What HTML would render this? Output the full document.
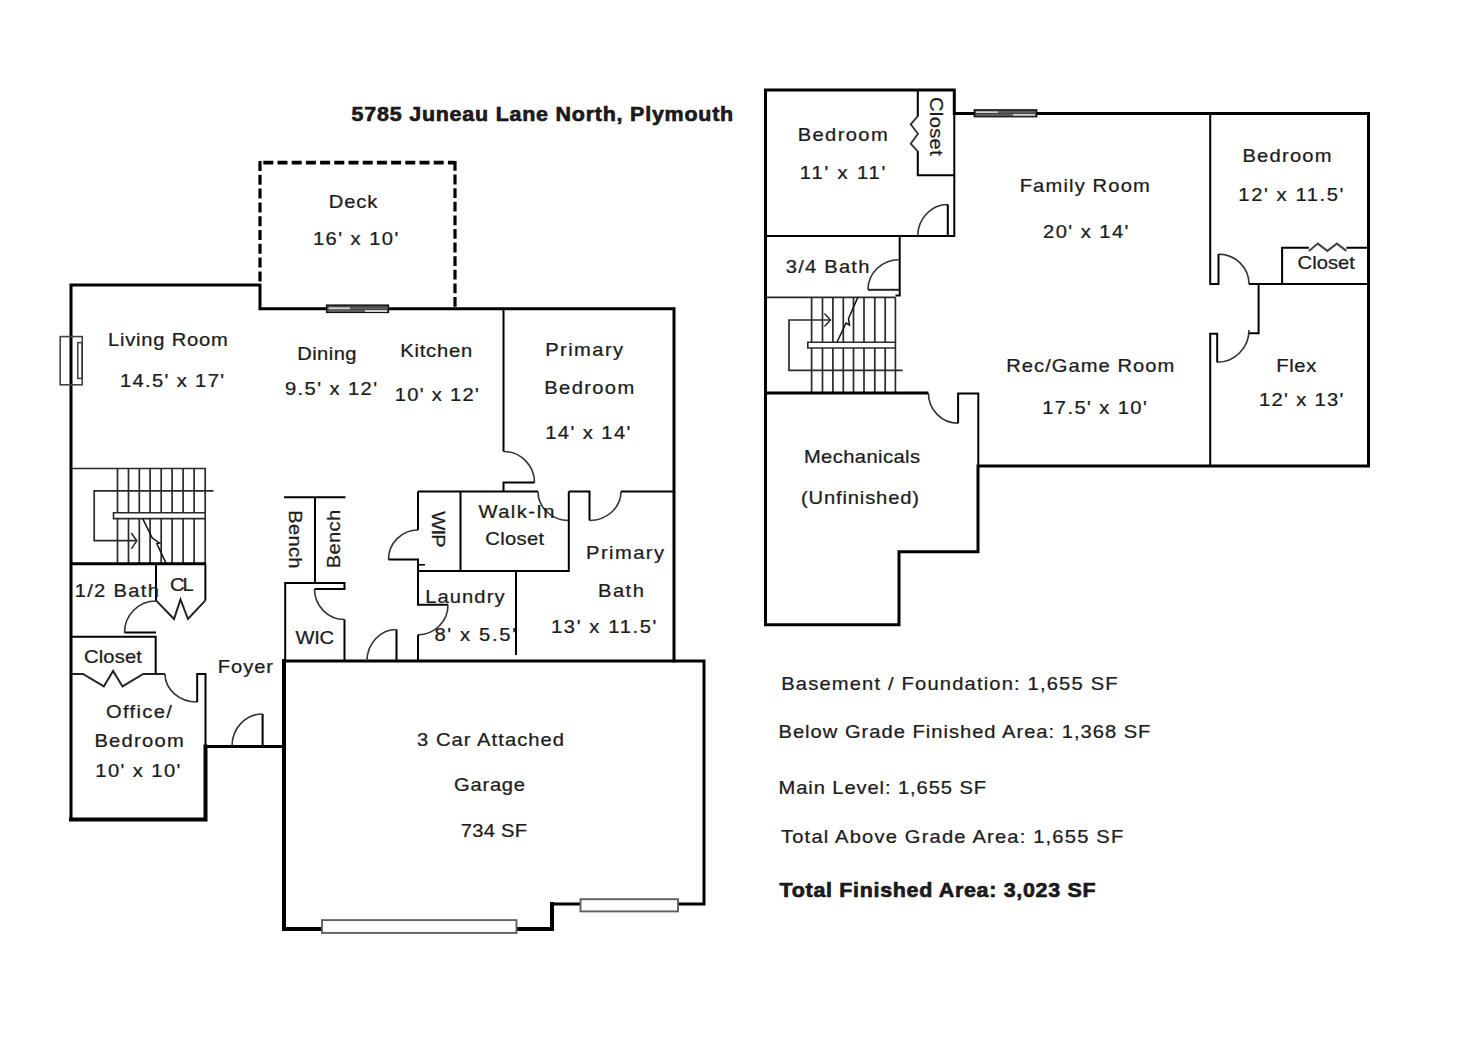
<!DOCTYPE html>
<html><head><meta charset="utf-8"><title>Floor Plan</title>
<style>
html,body{margin:0;padding:0;background:#fff;}
body{width:1462px;height:1060px;overflow:hidden;}
svg{display:block;font-family:"Liberation Sans", sans-serif;}
</style></head><body>
<svg width="1462" height="1060" viewBox="0 0 1462 1060">
<rect width="1462" height="1060" fill="#fff"/>
<g>
<path d="M260,161 V285" stroke="#000" stroke-width="3.2" fill="none" stroke-dasharray="10,3.8" stroke-linecap="butt"/>
<path d="M262,162.7 H455" stroke="#000" stroke-width="3.8" fill="none" stroke-dasharray="10,4.2" stroke-dashoffset="12.9" stroke-linecap="butt"/>
<path d="M455,161 V308" stroke="#000" stroke-width="3.2" fill="none" stroke-dasharray="9.8,3.8" stroke-linecap="butt"/>
<path d="M71,819.5 V285 H260 V308.8 H674 V661" stroke="#000" stroke-width="3" fill="none" stroke-linejoin="miter" stroke-linecap="square"/>
<path d="M205.5,746.5 H284" stroke="#000" stroke-width="3" fill="none" stroke-linecap="square"/>
<path d="M205.5,746.5 V819.5 H71" stroke="#000" stroke-width="4" fill="none" stroke-linecap="square"/>
<path d="M284,661 H704 V904 H552" stroke="#000" stroke-width="3" fill="none" stroke-linecap="square"/>
<path d="M552,904 V929 H284 V661" stroke="#000" stroke-width="4" fill="none" stroke-linecap="square"/>
<rect x="326.5" y="305" width="62" height="7.5" fill="#444" stroke="#111" stroke-width="1.2"/>
<path d="M350,308.3 H387 M328.5,311 H365" stroke="#666" stroke-width="1.5"/><path d="M328.5,308.3 H350 M365,311 H387" stroke="#d0d0d0" stroke-width="1.9"/>
<rect x="322" y="920.1" width="194.5" height="12.8" fill="#fff" stroke="#606060" stroke-width="1.9"/>
<rect x="580.5" y="899.2" width="97.5" height="12.2" fill="#fff" stroke="#606060" stroke-width="1.9"/>
<rect x="60.2" y="336.6" width="22" height="48.2" fill="none" stroke="#444" stroke-width="1.6"/>
<rect x="77.8" y="342.6" width="4.4" height="35.8" fill="none" stroke="#333" stroke-width="1.4"/>
<path d="M503.5,308.5 V451.5" stroke="#000" stroke-width="2" fill="none" />
<path d="M503.5,451.5 A31,31 0 0 1 534.5,482.5" stroke="#333" stroke-width="1.6" fill="none" />
<path d="M534.5,482.5 H503.5 V491.5" stroke="#000" stroke-width="2" fill="none" />
<path d="M418,491.5 H538" stroke="#000" stroke-width="2" fill="none" />
<path d="M538,491.5 A30.8,29 0 0 0 568.8,520.5" stroke="#333" stroke-width="1.6" fill="none" />
<path d="M568.8,491.5 V571 H418" stroke="#000" stroke-width="2" fill="none" />
<path d="M568.8,491.5 H589.5 V520.5" stroke="#000" stroke-width="2" fill="none" />
<path d="M589.5,520.5 A31.5,29 0 0 0 621,491.5" stroke="#333" stroke-width="1.6" fill="none" />
<path d="M621,491.5 H674" stroke="#000" stroke-width="2" fill="none" />
<path d="M460.5,491.5 V571" stroke="#000" stroke-width="2" fill="none" />
<path d="M418,491.5 V530" stroke="#000" stroke-width="2" fill="none" />
<path d="M418,530 A29.5,29.5 0 0 0 388.5,559.5" stroke="#333" stroke-width="1.6" fill="none" />
<path d="M388.5,559.5 H418 V604.8 H448" stroke="#000" stroke-width="2" fill="none" />
<path d="M448,604.8 A30,30 0 0 1 418,634.8" stroke="#333" stroke-width="1.6" fill="none" />
<path d="M418,634.8 V661" stroke="#000" stroke-width="2" fill="none" />
<path d="M418,564.8 H425" stroke="#000" stroke-width="1.6" fill="none" />
<path d="M516,571 V655" stroke="#000" stroke-width="2" fill="none" />
<path d="M284,497.2 H345.5" stroke="#000" stroke-width="2" fill="none" />
<path d="M315,497.2 V583" stroke="#000" stroke-width="2" fill="none" />
<path d="M285.2,583 H344.5 V589 H314.5" stroke="#000" stroke-width="2" fill="none" />
<path d="M314.5,589 A30,30.5 0 0 0 344.5,619.5" stroke="#333" stroke-width="1.6" fill="none" />
<path d="M344.5,619.5 V661" stroke="#000" stroke-width="2" fill="none" />
<path d="M285.2,582 V661" stroke="#000" stroke-width="2" fill="none" />
<path d="M396.5,661 V629.5" stroke="#000" stroke-width="2" fill="none" />
<path d="M396.5,629.5 A29.5,31.5 0 0 0 367,661" stroke="#333" stroke-width="1.6" fill="none" />
<path d="M71,468.5 H206" stroke="#2a2a2a" stroke-width="1.7" fill="none" />
<path d="M117.5,468.5 V512.7 M117.5,518.6 V563.6" stroke="#2a2a2a" stroke-width="1.7" fill="none" />
<path d="M128.5,468.5 V512.7 M128.5,518.6 V563.6" stroke="#2a2a2a" stroke-width="1.7" fill="none" />
<path d="M139.3,468.5 V512.7 M139.3,518.6 V563.6" stroke="#2a2a2a" stroke-width="1.7" fill="none" />
<path d="M150.1,468.5 V512.7 M150.1,518.6 V563.6" stroke="#2a2a2a" stroke-width="1.7" fill="none" />
<path d="M161.2,468.5 V512.7 M161.2,518.6 V563.6" stroke="#2a2a2a" stroke-width="1.7" fill="none" />
<path d="M172.1,468.5 V512.7 M172.1,518.6 V563.6" stroke="#2a2a2a" stroke-width="1.7" fill="none" />
<path d="M183.1,468.5 V512.7 M183.1,518.6 V563.6" stroke="#2a2a2a" stroke-width="1.7" fill="none" />
<path d="M194.1,468.5 V512.7 M194.1,518.6 V563.6" stroke="#2a2a2a" stroke-width="1.7" fill="none" />
<path d="M205.2,468.5 V512.7 M205.2,518.6 V563.6" stroke="#2a2a2a" stroke-width="1.7" fill="none" />
<path d="M113.5,512.7 H205.2 V518.6 H113.5 Z" stroke="#2a2a2a" stroke-width="1.6" fill="none" />
<path d="M213.5,490.9 H94.2 V540.7 H136.8" stroke="#2a2a2a" stroke-width="1.7" fill="none" />
<path d="M131.3,533 L136.8,540.7 L131.3,548.8" stroke="#2a2a2a" stroke-width="1.5" fill="none" />
<path d="M142.7,518.6 L152.3,538 L159.5,543 L156.8,543.5 L166.2,563.6" stroke="#111" stroke-width="1.5" fill="none" />
<path d="M71,563.8 H206" stroke="#000" stroke-width="3" fill="none" />
<path d="M156,563.6 V601" stroke="#000" stroke-width="2" fill="none" />
<path d="M156,601 A31.5,31.5 0 0 0 124.5,632.5" stroke="#333" stroke-width="1.6" fill="none" />
<path d="M124.5,632.5 H156" stroke="#000" stroke-width="2" fill="none" />
<path d="M205.4,563.6 V600.4" stroke="#000" stroke-width="2" fill="none" />
<path d="M156,600.4 L174,619 L180.5,599.5 L188,619 L205.4,600.4" stroke="#222" stroke-width="2" fill="none" />
<path d="M71,636.8 H155.7 V674" stroke="#000" stroke-width="2" fill="none" />
<path d="M71,674 H83 L103.8,686.4 L113.1,670.9 L122.5,686.4 L143.2,674 H165" stroke="#222" stroke-width="2" fill="none" />
<path d="M165,674 A32.2,28 0 0 0 197.2,702" stroke="#333" stroke-width="1.6" fill="none" />
<path d="M197.2,702 V674 H205.5 V746.5" stroke="#000" stroke-width="2" fill="none" />
<path d="M262.6,746 V714" stroke="#000" stroke-width="2" fill="none" />
<path d="M262.6,714 A30.6,32 0 0 0 232,746" stroke="#333" stroke-width="1.6" fill="none" />
<path d="M765.5,90 H954.3 V113.5 H1368.5 V466 H978 V551.7 H899 V624.8 H765.5 Z" stroke="#000" stroke-width="3" fill="none" stroke-linejoin="miter"/>
<path d="M954.3,113.5 V236 H765.5" stroke="#000" stroke-width="2" fill="none" />
<path d="M917.8,90 V116.5 M917.8,151 V175.2 H954.3" stroke="#000" stroke-width="2" fill="none" />
<path d="M918,115.9 L910.7,124.3 L918,133.7 L910.7,143.7 L918,151.6" stroke="#333" stroke-width="1.8" fill="none" />
<path d="M917.8,236 A30,31.5 0 0 1 947.8,204.5" stroke="#333" stroke-width="1.6" fill="none" />
<path d="M947.8,204.5 V236" stroke="#000" stroke-width="2" fill="none" />
<path d="M899.7,236 V295.4 H895.5" stroke="#000" stroke-width="2" fill="none" />
<path d="M868,289.8 A30.8,30.1 0 0 1 898.8,259.7" stroke="#333" stroke-width="1.6" fill="none" />
<path d="M868,289.8 H899.7" stroke="#222" stroke-width="2" fill="none" />
<rect x="974.2" y="109.8" width="62.6" height="7" fill="#444" stroke="#111" stroke-width="1.2"/>
<path d="M998,112.1 H1035 M976,114.9 H1013" stroke="#666" stroke-width="1.5"/><path d="M976,112.1 H998 M1013,114.9 H1035" stroke="#d0d0d0" stroke-width="1.9"/>
<path d="M765.5,297.4 H895.6" stroke="#2a2a2a" stroke-width="1.7" fill="none" />
<path d="M811.6,297.4 V342.2 M811.6,348 V392.3" stroke="#2a2a2a" stroke-width="1.7" fill="none" />
<path d="M822.5,297.4 V342.2 M822.5,348 V392.3" stroke="#2a2a2a" stroke-width="1.7" fill="none" />
<path d="M832.9,297.4 V342.2 M832.9,348 V392.3" stroke="#2a2a2a" stroke-width="1.7" fill="none" />
<path d="M843.3,297.4 V342.2 M843.3,348 V392.3" stroke="#2a2a2a" stroke-width="1.7" fill="none" />
<path d="M853.5,297.4 V342.2 M853.5,348 V392.3" stroke="#2a2a2a" stroke-width="1.7" fill="none" />
<path d="M864,297.4 V342.2 M864,348 V392.3" stroke="#2a2a2a" stroke-width="1.7" fill="none" />
<path d="M874.8,297.4 V342.2 M874.8,348 V392.3" stroke="#2a2a2a" stroke-width="1.7" fill="none" />
<path d="M885.2,297.4 V342.2 M885.2,348 V392.3" stroke="#2a2a2a" stroke-width="1.7" fill="none" />
<path d="M895.4,297.4 V342.2 M895.4,348 V392.3" stroke="#2a2a2a" stroke-width="1.7" fill="none" />
<path d="M807.8,342.2 H895.4 V348 H807.8 Z" stroke="#2a2a2a" stroke-width="1.6" fill="none" />
<path d="M902.6,370.4 H789 V320 H830.5" stroke="#2a2a2a" stroke-width="1.7" fill="none" />
<path d="M824.5,313.5 L830.5,320 L824.5,326.5" stroke="#2a2a2a" stroke-width="1.5" fill="none" />
<path d="M837,342.2 L846,323 L849.5,325 L848.5,318.5 L857.8,297.4" stroke="#111" stroke-width="1.5" fill="none" />
<path d="M765.5,392.9 H928.4" stroke="#000" stroke-width="3" fill="none" />
<path d="M928.4,392.9 A29.7,30.3 0 0 0 958.1,423.2" stroke="#333" stroke-width="1.6" fill="none" />
<path d="M958.1,423.2 V393.5 H978.3 V466" stroke="#000" stroke-width="2" fill="none" />
<path d="M1210.2,113.5 V284 H1218.5 V254.1" stroke="#000" stroke-width="2" fill="none" />
<path d="M1218.5,254.1 A30.5,29.9 0 0 1 1249,284" stroke="#333" stroke-width="1.6" fill="none" />
<path d="M1249,284 H1368.5" stroke="#000" stroke-width="2" fill="none" />
<path d="M1282.1,284 V247.7 H1308.9 M1346.4,247.7 H1368.5" stroke="#000" stroke-width="2" fill="none" />
<path d="M1308.9,250.9 L1317.8,243.6 L1327.3,250.9 L1336.9,243.6 L1346.4,250.9" stroke="#444" stroke-width="2" fill="none" />
<path d="M1258.6,284 V333.2 H1249" stroke="#000" stroke-width="2" fill="none" />
<path d="M1249,329.9 A31.8,32.4 0 0 1 1217.2,362.3" stroke="#333" stroke-width="1.6" fill="none" />
<path d="M1217.2,362.3 V333.7 H1210.2 V466" stroke="#000" stroke-width="2" fill="none" />
</g>
<g>
<text transform="scale(1.1,1)" x="319.64" y="121.00" textLength="346.92" lengthAdjust="spacing" font-size="19.5" font-weight="bold" stroke="#111" stroke-width="0.6" fill="#1c1c1c">5785 Juneau Lane North, Plymouth</text>
<text transform="scale(1.12,1)" x="293.46" y="208.10" textLength="43.54" lengthAdjust="spacing" font-size="18.0" stroke="#1c1c1c" stroke-width="0.25" fill="#1c1c1c">Deck</text>
<text transform="scale(1.12,1)" x="279.36" y="244.60" textLength="76.34" lengthAdjust="spacing" font-size="18.0" stroke="#1c1c1c" stroke-width="0.25" fill="#1c1c1c">16' x 10'</text>
<text transform="scale(1.12,1)" x="96.41" y="346.30" textLength="107.03" lengthAdjust="spacing" font-size="18.0" stroke="#1c1c1c" stroke-width="0.25" fill="#1c1c1c">Living Room</text>
<text transform="scale(1.12,1)" x="107.04" y="386.60" textLength="93.03" lengthAdjust="spacing" font-size="18.0" stroke="#1c1c1c" stroke-width="0.25" fill="#1c1c1c">14.5' x 17'</text>
<text transform="scale(1.12,1)" x="265.34" y="360.10" textLength="53.03" lengthAdjust="spacing" font-size="18.0" stroke="#1c1c1c" stroke-width="0.25" fill="#1c1c1c">Dining</text>
<text transform="scale(1.12,1)" x="254.46" y="394.70" textLength="82.21" lengthAdjust="spacing" font-size="18.0" stroke="#1c1c1c" stroke-width="0.25" fill="#1c1c1c">9.5' x 12'</text>
<text transform="scale(1.12,1)" x="357.30" y="357.00" textLength="64.26" lengthAdjust="spacing" font-size="18.0" stroke="#1c1c1c" stroke-width="0.25" fill="#1c1c1c">Kitchen</text>
<text transform="scale(1.12,1)" x="352.39" y="400.60" textLength="75.28" lengthAdjust="spacing" font-size="18.0" stroke="#1c1c1c" stroke-width="0.25" fill="#1c1c1c">10' x 12'</text>
<text transform="scale(1.12,1)" x="486.77" y="356.30" textLength="69.67" lengthAdjust="spacing" font-size="18.0" stroke="#1c1c1c" stroke-width="0.25" fill="#1c1c1c">Primary</text>
<text transform="scale(1.12,1)" x="485.96" y="394.00" textLength="80.29" lengthAdjust="spacing" font-size="18.0" stroke="#1c1c1c" stroke-width="0.25" fill="#1c1c1c">Bedroom</text>
<text transform="scale(1.12,1)" x="486.77" y="438.80" textLength="76.07" lengthAdjust="spacing" font-size="18.0" stroke="#1c1c1c" stroke-width="0.25" fill="#1c1c1c">14' x 14'</text>
<text transform="scale(1.12,1)" x="427.23" y="518.10" textLength="67.89" lengthAdjust="spacing" font-size="18.0" stroke="#1c1c1c" stroke-width="0.25" fill="#1c1c1c">Walk-In</text>
<text transform="scale(1.12,1)" x="433.30" y="545.30" textLength="52.62" lengthAdjust="spacing" font-size="18.0" stroke="#1c1c1c" stroke-width="0.25" fill="#1c1c1c">Closet</text>
<text transform="scale(1.12,1)" x="523.29" y="558.90" textLength="69.58" lengthAdjust="spacing" font-size="18.0" stroke="#1c1c1c" stroke-width="0.25" fill="#1c1c1c">Primary</text>
<text transform="scale(1.12,1)" x="534.00" y="597.10" textLength="40.89" lengthAdjust="spacing" font-size="18.0" stroke="#1c1c1c" stroke-width="0.25" fill="#1c1c1c">Bath</text>
<text transform="scale(1.12,1)" x="491.95" y="633.30" textLength="94.12" lengthAdjust="spacing" font-size="18.0" stroke="#1c1c1c" stroke-width="0.25" fill="#1c1c1c">13' x 11.5'</text>
<text transform="scale(1.12,1)" x="379.71" y="602.60" textLength="70.73" lengthAdjust="spacing" font-size="18.0" stroke="#1c1c1c" stroke-width="0.25" fill="#1c1c1c">Laundry</text>
<text transform="scale(1.12,1)" x="387.86" y="640.70" textLength="72.85" lengthAdjust="spacing" font-size="18.0" stroke="#1c1c1c" stroke-width="0.25" fill="#1c1c1c">8' x 5.5'</text>
<text transform="scale(1.12,1)" x="263.84" y="644.00" textLength="34.33" lengthAdjust="spacing" font-size="18.0" stroke="#1c1c1c" stroke-width="0.25" fill="#1c1c1c">WIC</text>
<text transform="scale(1.12,1)" x="66.68" y="596.60" textLength="75.21" lengthAdjust="spacing" font-size="18.0" stroke="#1c1c1c" stroke-width="0.25" fill="#1c1c1c">1/2 Bath</text>
<text transform="scale(1.12,1)" x="151.79" y="591.00" textLength="21.20" lengthAdjust="spacing" font-size="18.0" stroke="#1c1c1c" stroke-width="0.25" fill="#1c1c1c">CL</text>
<text transform="scale(1.12,1)" x="75.00" y="662.60" textLength="51.71" lengthAdjust="spacing" font-size="18.0" stroke="#1c1c1c" stroke-width="0.25" fill="#1c1c1c">Closet</text>
<text transform="scale(1.12,1)" x="194.54" y="673.00" textLength="49.18" lengthAdjust="spacing" font-size="18.0" stroke="#1c1c1c" stroke-width="0.25" fill="#1c1c1c">Foyer</text>
<text transform="scale(1.12,1)" x="94.64" y="717.60" textLength="58.77" lengthAdjust="spacing" font-size="18.0" stroke="#1c1c1c" stroke-width="0.25" fill="#1c1c1c">Office/</text>
<text transform="scale(1.12,1)" x="84.27" y="746.60" textLength="79.76" lengthAdjust="spacing" font-size="18.0" stroke="#1c1c1c" stroke-width="0.25" fill="#1c1c1c">Bedroom</text>
<text transform="scale(1.12,1)" x="85.16" y="776.70" textLength="75.89" lengthAdjust="spacing" font-size="18.0" stroke="#1c1c1c" stroke-width="0.25" fill="#1c1c1c">10' x 10'</text>
<text transform="scale(1.12,1)" x="372.32" y="745.60" textLength="131.32" lengthAdjust="spacing" font-size="18.0" stroke="#1c1c1c" stroke-width="0.25" fill="#1c1c1c">3 Car Attached</text>
<text transform="scale(1.12,1)" x="405.36" y="790.60" textLength="63.43" lengthAdjust="spacing" font-size="18.0" stroke="#1c1c1c" stroke-width="0.25" fill="#1c1c1c">Garage</text>
<text transform="scale(1.12,1)" x="411.43" y="836.60" textLength="59.17" lengthAdjust="spacing" font-size="18.0" stroke="#1c1c1c" stroke-width="0.25" fill="#1c1c1c">734 SF</text>
<text transform="scale(1.12,1)" x="712.21" y="141.30" textLength="80.38" lengthAdjust="spacing" font-size="18.0" stroke="#1c1c1c" stroke-width="0.25" fill="#1c1c1c">Bedroom</text>
<text transform="scale(1.12,1)" x="714.18" y="178.60" textLength="76.34" lengthAdjust="spacing" font-size="18.0" stroke="#1c1c1c" stroke-width="0.25" fill="#1c1c1c">11' x 11'</text>
<text transform="scale(1.12,1)" x="701.61" y="272.80" textLength="74.65" lengthAdjust="spacing" font-size="18.0" stroke="#1c1c1c" stroke-width="0.25" fill="#1c1c1c">3/4 Bath</text>
<text transform="scale(1.12,1)" x="910.43" y="192.00" textLength="116.18" lengthAdjust="spacing" font-size="18.0" stroke="#1c1c1c" stroke-width="0.25" fill="#1c1c1c">Family Room</text>
<text transform="scale(1.12,1)" x="931.25" y="238.00" textLength="76.32" lengthAdjust="spacing" font-size="18.0" stroke="#1c1c1c" stroke-width="0.25" fill="#1c1c1c">20' x 14'</text>
<text transform="scale(1.12,1)" x="1109.27" y="162.30" textLength="79.67" lengthAdjust="spacing" font-size="18.0" stroke="#1c1c1c" stroke-width="0.25" fill="#1c1c1c">Bedroom</text>
<text transform="scale(1.12,1)" x="1105.70" y="201.20" textLength="93.67" lengthAdjust="spacing" font-size="18.0" stroke="#1c1c1c" stroke-width="0.25" fill="#1c1c1c">12' x 11.5'</text>
<text transform="scale(1.12,1)" x="1158.57" y="269.40" textLength="51.17" lengthAdjust="spacing" font-size="18.0" stroke="#1c1c1c" stroke-width="0.25" fill="#1c1c1c">Closet</text>
<text transform="scale(1.12,1)" x="898.46" y="372.00" textLength="149.98" lengthAdjust="spacing" font-size="18.0" stroke="#1c1c1c" stroke-width="0.25" fill="#1c1c1c">Rec/Game Room</text>
<text transform="scale(1.12,1)" x="930.52" y="413.80" textLength="93.39" lengthAdjust="spacing" font-size="18.0" stroke="#1c1c1c" stroke-width="0.25" fill="#1c1c1c">17.5' x 10'</text>
<text transform="scale(1.12,1)" x="1139.54" y="372.00" textLength="35.68" lengthAdjust="spacing" font-size="18.0" stroke="#1c1c1c" stroke-width="0.25" fill="#1c1c1c">Flex</text>
<text transform="scale(1.12,1)" x="1124.18" y="406.00" textLength="75.19" lengthAdjust="spacing" font-size="18.0" stroke="#1c1c1c" stroke-width="0.25" fill="#1c1c1c">12' x 13'</text>
<text transform="scale(1.12,1)" x="717.75" y="463.20" textLength="103.73" lengthAdjust="spacing" font-size="18.0" stroke="#1c1c1c" stroke-width="0.25" fill="#1c1c1c">Mechanicals</text>
<text transform="scale(1.12,1)" x="715.09" y="504.10" textLength="105.52" lengthAdjust="spacing" font-size="18.0" stroke="#1c1c1c" stroke-width="0.25" fill="#1c1c1c">(Unfinished)</text>
<text transform="scale(1.12,1)" x="697.48" y="690.30" textLength="300.35" lengthAdjust="spacing" font-size="18.0" stroke="#1c1c1c" stroke-width="0.25" fill="#1c1c1c">Basement / Foundation: 1,655 SF</text>
<text transform="scale(1.12,1)" x="695.07" y="738.00" textLength="332.13" lengthAdjust="spacing" font-size="18.0" stroke="#1c1c1c" stroke-width="0.25" fill="#1c1c1c">Below Grade Finished Area: 1,368 SF</text>
<text transform="scale(1.12,1)" x="695.07" y="794.00" textLength="185.39" lengthAdjust="spacing" font-size="18.0" stroke="#1c1c1c" stroke-width="0.25" fill="#1c1c1c">Main Level: 1,655 SF</text>
<text transform="scale(1.12,1)" x="697.32" y="842.80" textLength="305.56" lengthAdjust="spacing" font-size="18.0" stroke="#1c1c1c" stroke-width="0.25" fill="#1c1c1c">Total Above Grade Area: 1,655 SF</text>
<text transform="scale(1.1,1)" x="708.73" y="896.70" textLength="287.19" lengthAdjust="spacing" font-size="19.5" font-weight="bold" stroke="#111" stroke-width="0.6" fill="#1c1c1c">Total Finished Area: 3,023 SF</text>
<text transform="translate(288.80,0) rotate(90) scale(1.12,1)" x="455.61" y="0" textLength="51.95" lengthAdjust="spacing" font-size="18.0" stroke="#1c1c1c" stroke-width="0.25" fill="#1c1c1c">Bench</text>
<text transform="translate(339.70,0) rotate(-90) scale(1.12,1)" x="-507.43" y="0" textLength="52.31" lengthAdjust="spacing" font-size="18.0" stroke="#1c1c1c" stroke-width="0.25" fill="#1c1c1c">Bench</text>
<text transform="translate(431.50,0) rotate(90) scale(1.12,1)" x="456.52" y="0" textLength="32.56" lengthAdjust="spacing" font-size="18.0" stroke="#1c1c1c" stroke-width="0.25" fill="#1c1c1c">WIP</text>
<text transform="translate(930.00,0) rotate(90) scale(1.12,1)" x="86.61" y="0" textLength="52.44" lengthAdjust="spacing" font-size="18.0" stroke="#1c1c1c" stroke-width="0.25" fill="#1c1c1c">Closet</text>
</g>
</svg>
</body></html>
